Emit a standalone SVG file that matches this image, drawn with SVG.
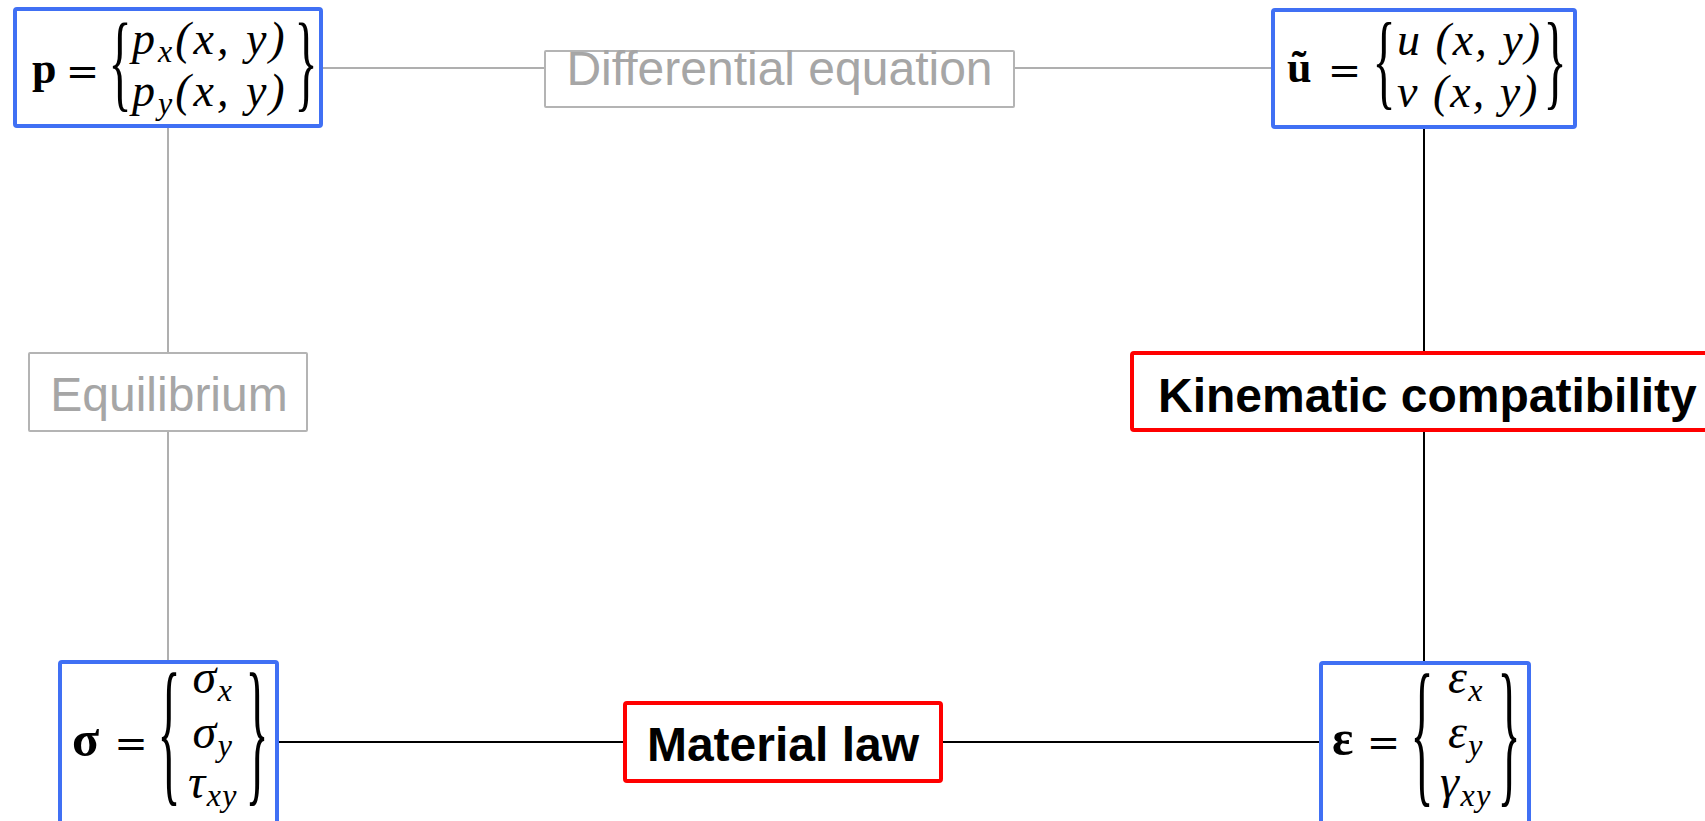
<svg xmlns="http://www.w3.org/2000/svg" width="1705" height="821" viewBox="0 0 1705 821">
<style>
.bg{fill:#ffffff}
.blue{fill:#ffffff;stroke:#4070F4;stroke-width:4}
.red{fill:#ffffff;stroke:#FF0000;stroke-width:4}
.grey{fill:#ffffff;stroke:#B4B4B4;stroke-width:2}
.lg{stroke:#AFAFAF;stroke-width:2;fill:none}
.lb{stroke:#000000;stroke-width:2;fill:none}
.lbl{font-family:"Liberation Sans",Arial,sans-serif;font-size:48px}
.lblg{fill:#A6A6A6}
.lblb{fill:#000000;font-weight:bold}
.m{font-family:"Liberation Serif","Times New Roman",serif;font-size:46px;font-style:italic;fill:#000}
.m3{letter-spacing:3px}
.m2{letter-spacing:2px}
.mc{font-size:48px;letter-spacing:1.5px}
.mb{font-family:"Liberation Serif","Times New Roman",serif;font-size:44px;font-weight:bold;fill:#000}
.mbl{font-size:50px}
.eq{font-family:"DejaVu Serif",serif;font-size:40px;fill:#000}
.br{font-family:"Liberation Serif","Times New Roman",serif;font-size:30px;fill:#000}
.sub{font-size:32px}
</style>
<rect class="bg" x="0" y="0" width="1705" height="821"/>
<g id="connectors">
<line class="lg" x1="321" y1="68" x2="545" y2="68"/>
<line class="lg" x1="1014" y1="68" x2="1273" y2="68"/>
<line class="lg" x1="168" y1="126" x2="168" y2="353"/>
<line class="lg" x1="168" y1="431" x2="168" y2="662"/>
<line class="lb" x1="1424" y1="127" x2="1424" y2="353"/>
<line class="lb" x1="1424" y1="430" x2="1424" y2="663"/>
<line class="lb" x1="277" y1="742" x2="625" y2="742"/>
<line class="lb" x1="941" y1="742" x2="1321" y2="742"/>
</g>
<g id="node-p">
<rect class="blue" x="15" y="9" width="306" height="117" rx="2"/>
<text class="mb" x="32" y="83">p</text>
<text class="eq" x="82.5" y="85" text-anchor="middle">=</text>
<text class="br" text-anchor="middle" y="7.5" transform="translate(120,71.5) scale(1.6,3.59)">{</text>
<text class="m m3" x="132" y="54">p<tspan class="sub" dy="8">x</tspan><tspan dy="-8">(x, y)</tspan></text>
<text class="m m3" x="132" y="106">p<tspan class="sub" dy="8">y</tspan><tspan dy="-8">(x, y)</tspan></text>
<text class="br" text-anchor="middle" y="7.5" transform="translate(306,71.5) scale(1.6,3.59)">}</text>
</g>
<g id="node-diffeq">
<rect class="grey" x="545" y="51" width="469" height="56" rx="1"/>
<text class="lbl lblg" x="779.5" y="85" text-anchor="middle">Differential equation</text>
</g>
<g id="node-u">
<rect class="blue" x="1273" y="10" width="302" height="117" rx="2"/>
<text class="mb" x="1287" y="82">ũ</text>
<text class="eq" x="1344.5" y="84" text-anchor="middle">=</text>
<text class="br" text-anchor="middle" y="7.5" transform="translate(1384,69) scale(1.6,3.55)">{</text>
<text class="m m2" x="1397" y="55">u (x, y)</text>
<text class="m m2" x="1397" y="107">v (x, y)</text>
<text class="br" text-anchor="middle" y="7.5" transform="translate(1555,69) scale(1.6,3.55)">}</text>
</g>
<g id="node-equilibrium">
<rect class="grey" x="29" y="353" width="278" height="78" rx="1"/>
<text class="lbl lblg" x="169" y="411" text-anchor="middle">Equilibrium</text>
</g>
<g id="node-kinematic">
<rect class="red" x="1132" y="353" width="600" height="77" rx="2"/>
<text class="lbl lblb" x="1158" y="412">Kinematic compatibility</text>
</g>
<g id="node-sigma">
<rect class="blue" x="60" y="662" width="217" height="180" rx="2"/>
<text class="mb mbl" x="72" y="756">σ</text>
<text class="eq" x="131" y="757" text-anchor="middle">=</text>
<text class="br" text-anchor="middle" y="7.5" transform="translate(169,743) scale(1.6,5.4)">{</text>
<text class="m mc" x="213" y="693" text-anchor="middle">σ<tspan class="sub" dy="8">x</tspan></text>
<text class="m mc" x="213" y="748" text-anchor="middle">σ<tspan class="sub" dy="8">y</tspan></text>
<text class="m mc" x="213" y="798" text-anchor="middle">τ<tspan class="sub" dy="8">xy</tspan></text>
<text class="br" text-anchor="middle" y="7.5" transform="translate(257,743) scale(1.6,5.4)">}</text>
</g>
<g id="node-material">
<rect class="red" x="625" y="703" width="316" height="78" rx="2"/>
<text class="lbl lblb" x="783" y="761" text-anchor="middle">Material law</text>
</g>
<g id="node-epsilon">
<rect class="blue" x="1321" y="663" width="208" height="180" rx="2"/>
<text class="mb mbl" x="1332" y="755">ε</text>
<text class="eq" x="1383.5" y="756" text-anchor="middle">=</text>
<text class="br" text-anchor="middle" y="7.5" transform="translate(1422,744) scale(1.6,5.4)">{</text>
<text class="m mc" x="1466" y="693" text-anchor="middle">ε<tspan class="sub" dy="8">x</tspan></text>
<text class="m mc" x="1466" y="748" text-anchor="middle">ε<tspan class="sub" dy="8">y</tspan></text>
<text class="m mc" x="1466" y="798" text-anchor="middle">γ<tspan class="sub" dy="8">xy</tspan></text>
<text class="br" text-anchor="middle" y="7.5" transform="translate(1509,744) scale(1.6,5.4)">}</text>
</g>
</svg>
